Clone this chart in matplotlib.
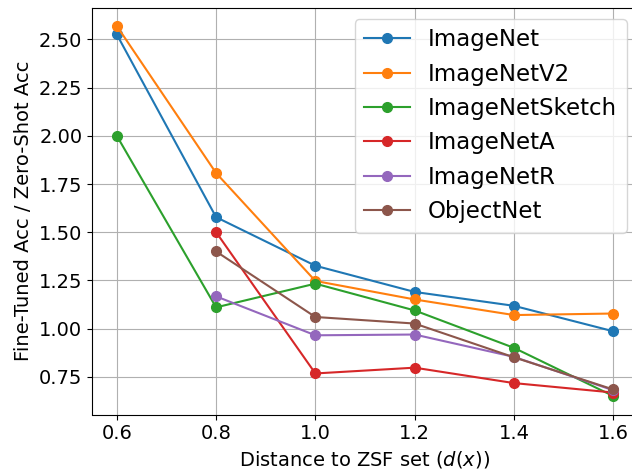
import matplotlib
matplotlib.use('Agg')
import matplotlib.pyplot as plt

# distance to the zero-shot set
dist_full = [0.6, 0.8, 1.0, 1.2, 1.4, 1.6]
dist_short = [0.8, 1.0, 1.2, 1.4, 1.6]

# fine-tuned / zero-shot accuracy ratios
imagenet = [2.526, 1.578, 1.326, 1.190, 1.118, 0.986]
imagenet_v2 = [2.570, 1.807, 1.247, 1.151, 1.070, 1.078]
imagenet_sketch = [2.000, 1.110, 1.233, 1.094, 0.900, 0.650]
imagenet_a = [1.500, 0.767, 0.797, 0.717, 0.668]
imagenet_r = [1.167, 0.965, 0.969, 0.853, 0.680]
objectnet = [1.400, 1.060, 1.026, 0.851, 0.684]

fig = plt.figure(figsize=(6.32, 4.72), dpi=100)
ax = fig.add_axes([92 / 632, (472 - 414.5) / 472, (638 - 92) / 632, (414.5 - 7.5) / 472])

ax.plot(dist_full, imagenet, marker='o', markersize=7, label='ImageNet')
ax.plot(dist_full, imagenet_v2, marker='o', markersize=7, label='ImageNetV2')
ax.plot(dist_full, imagenet_sketch, marker='o', markersize=7, label='ImageNetSketch')
ax.plot(dist_short, imagenet_a, marker='o', markersize=7, label='ImageNetA')
ax.plot(dist_short, imagenet_r, marker='o', markersize=7, label='ImageNetR')
ax.plot(dist_short, objectnet, marker='o', markersize=7, label='ObjectNet')

ax.grid(True)
ax.tick_params(labelsize=14)
ax.set_xlabel('Distance to ZSF set ($d(x)$)', fontsize=14)
ax.set_ylabel('Fine-Tuned Acc / Zero-Shot Acc', fontsize=14)
ax.legend(loc='upper right', fontsize=16.5)

fig.savefig('out.png', dpi=100)
